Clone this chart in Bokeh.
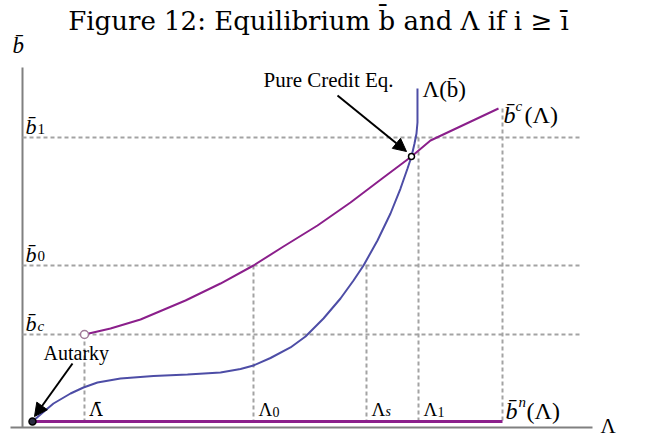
from bokeh.plotting import figure
from bokeh.models import Range1d, Label, Arrow, NormalHead
from bokeh.embed import file_html
from bokeh.resources import INLINE

# ---------------- data ----------------
# b^c(Lambda): credit-equilibrium curve (purple)
bc_lam = [1.106, 1.660, 2.298, 3.255, 4.000, 4.702, 5.340, 6.064, 6.766, 7.468, 8.064, 8.468, 9.915]
bc_val = [3.063, 3.275, 3.592, 4.261, 4.859, 5.493, 6.162, 6.901, 7.711, 8.592, 9.331, 9.894, 11.021]

# Lambda(b): blue curve
L_lam = [0.000, 0.170, 0.447, 0.809, 1.085, 1.383, 1.872, 2.574, 3.298, 4.000,
         4.426, 4.702, 5.064, 5.489, 5.809, 6.191, 6.553, 6.830, 7.043, 7.340,
         7.617, 7.830, 7.979, 8.064, 8.128, 8.170, 8.191, 8.191]
L_val = [0.000, 0.246, 0.634, 0.986, 1.197, 1.373, 1.514, 1.602, 1.655, 1.725,
         1.849, 1.972, 2.236, 2.606, 2.993, 3.627, 4.331, 4.965, 5.493, 6.373,
         7.324, 8.204, 8.908, 9.331, 9.789, 10.141, 10.528, 11.725]

# b^n(Lambda): flat line at zero (purple)
bn_lam = [0.0, 10.0]
bn_val = [0.0, 0.0]

# marked Lambda values and their labels
lam_marks = [1.106, 4.702, 7.106, 8.213]
lam_names = ["Λ̄", "Λ", "Λ", "Λ"]
lam_subs = ["", "0", "s", "1"]
lam_tops = [3.063, 5.493, 5.493, 10.0]
lam_max = 10.0

# marked b values and their labels
b_marks = [10.0, 5.493, 3.063]
b_subs = ["1", "0", "c"]

TITLE = "Figure 12: Equilibrium b̄ and Λ if i ≥ ī"

# ---------------- layout ----------------
W, H = 646, 438
PXX, PXY = 47.0, 28.4      # pixels per data unit
OX, OY = 32, 421           # pixel of the data origin
TFIX = 8                   # label baseline correction, pixels


def X(px):
    return (px - OX) / PXX


def Y(py):
    return (OY - py) / PXY


PURPLE = "#8b1f8b"
BLUE = "#4d4da6"
GUIDE = "#a3a3a3"
AXIS = "#808080"

p = figure(width=W, height=H,
           x_range=Range1d(X(0), X(W)), y_range=Range1d(Y(H), Y(0)),
           output_backend="svg", toolbar_location=None,
           x_axis_location=None, y_axis_location=None,
           min_border=0, outline_line_color=None,
           background_fill_color="white", border_fill_color="white")
for g in p.grid:
    g.visible = False

# axes lines
p.segment(x0=[X(10), X(22)], y0=[Y(427), Y(427)], x1=[X(592), X(22)], y1=[Y(427), Y(67)],
          line_color=AXIS, line_width=2)

# guide lines
x_left, x_right = X(22), X(581)
p.segment(x0=[x_left] * len(b_marks), y0=b_marks, x1=[x_right] * len(b_marks), y1=b_marks,
          line_color=GUIDE, line_width=2, line_dash="4 3")
vx = lam_marks + [lam_max]
vt = lam_tops + [bc_val[-1]]
p.segment(x0=vx, y0=vt, x1=vx, y1=[0.0] * len(vx),
          line_color=GUIDE, line_width=2, line_dash="4 3")

# curves
p.line(bn_lam, bn_val, line_color=PURPLE, line_width=3)
p.line(bc_lam, bc_val, line_color=PURPLE, line_width=2)
p.line(L_lam, L_val, line_color=BLUE, line_width=2)

# points
p.scatter([bc_lam[0]], [bc_val[0]], size=8, fill_color="white", line_color="#a07a98", line_width=1.5)
p.scatter([bn_lam[0]], [bn_val[0]], size=7, fill_color="#2a2a40", line_color="black", line_width=1.5)
eq_x, eq_y = bc_lam[10], bc_val[10]
p.scatter([eq_x], [eq_y], size=6, fill_color="white", line_color="black", line_width=1.5)

# arrows
p.add_layout(Arrow(end=NormalHead(size=13, fill_color="black", line_color="black"),
                   x_start=bn_lam[0] + 40 / PXX, y_start=bn_val[0] + 58 / PXY,
                   x_end=bn_lam[0] + 2 / PXX, y_end=bn_val[0] + 5 / PXY,
                   line_color="black", line_width=2))
p.add_layout(Arrow(end=NormalHead(size=13, fill_color="black", line_color="black"),
                   x_start=eq_x - 74 / PXX, y_start=eq_y + 61 / PXY,
                   x_end=eq_x - 5 / PXX, y_end=eq_y + 5 / PXY,
                   line_color="black", line_width=2))


def txt(x, y, s, size, style="normal", font="Liberation Serif", align="left"):
    p.add_layout(Label(x=x, y=y + TFIX / PXY, text=s, text_font=font,
                       text_font_size=f"{size}px", text_font_style=style,
                       text_align=align, text_baseline="alphabetic", text_color="black"))


# title and axis names
txt(X(318), Y(28), TITLE, 26, font="DejaVu Serif", align="center")
txt(X(12), Y(53), "b̄", 23, "italic")
txt(X(600), Y(433), "Λ", 21)

# b marks
for val, sub in zip(b_marks, b_subs):
    txt(X(25), val + 3 / PXY, "b̄", 22, "italic")
    txt(X(37), val + 1 / PXY, sub, 15, "italic" if sub == "c" else "normal")

# Lambda marks
for lam, name, sub in zip(lam_marks, lam_names, lam_subs):
    if sub:
        txt(lam + 5 / PXX, Y(417), name, 19)
        txt(lam + 19 / PXX, Y(419), sub, 14, "italic" if sub == "s" else "normal")
    else:
        txt(lam + 5 / PXX, Y(417), name, 18, font="DejaVu Serif")

# curve names
txt(X(422), Y(97), "Λ(b̄)", 23)
ex, ey = bc_lam[-1], bc_val[-1]
txt(ex + 5 / PXX, ey - 14 / PXY, "b̄", 24, "italic")
txt(ex + 17 / PXX, ey - 5 / PXY, "c", 15, "italic")
txt(ex + 26 / PXX, ey - 14 / PXY, "(Λ)", 24)
nx, ny = bn_lam[-1], bn_val[-1]
txt(nx + 3 / PXX, ny + 3 / PXY, "b̄", 24, "italic")
txt(nx + 16 / PXX, ny + 12 / PXY, "n", 15, "italic")
txt(nx + 24 / PXX, ny + 3 / PXY, "(Λ)", 24)

# annotations
txt(X(43), Y(360), "Autarky", 20)
txt(X(263), Y(87), "Pure Credit Eq.", 21)

open("out.html", "w").write(file_html(p, INLINE))
